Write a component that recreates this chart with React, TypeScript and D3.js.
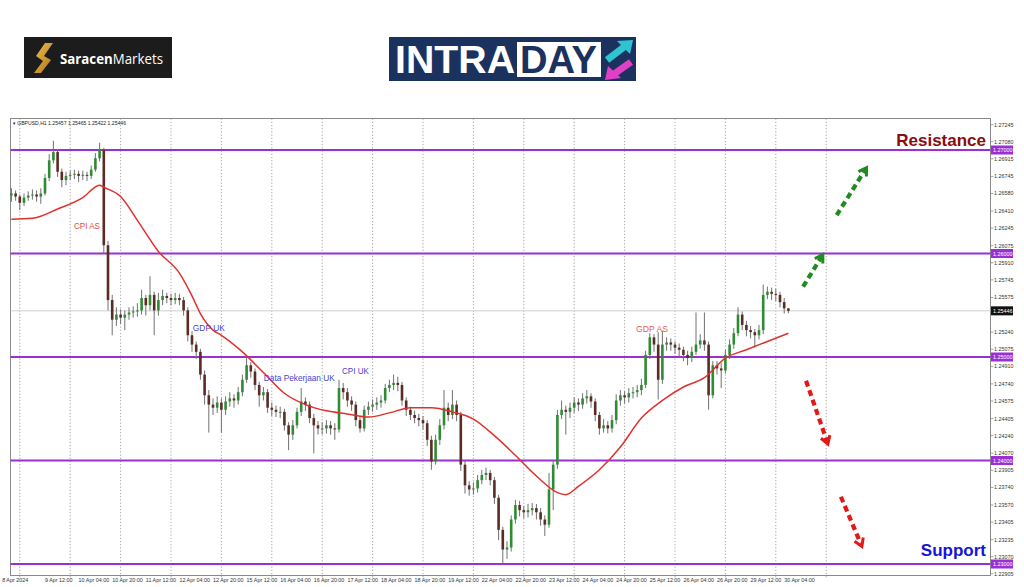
import React from 'react';
import * as d3 from 'd3';

const symbolHeader = '\u25BE GBPUSD,H1  1.25457 1.25465 1.25422 1.25446';
const firstOpen = 1.2656;
const closes = [
  1.2658,1.2655,1.2649,1.2654,1.2656,1.2657,1.2655,1.2658,1.2673,1.2690,
  1.2698,1.2679,1.2671,1.2675,1.2676,1.2677,1.2675,1.2676,1.2675,1.2681,
  1.2692,1.2700,1.2608,1.2555,1.2536,1.2541,1.2538,1.2541,1.2543,1.2544,
  1.2545,1.2557,1.2550,1.2560,1.2545,1.2555,1.2559,1.2557,1.2555,1.2557,
  1.2555,1.2545,1.2521,1.2512,1.2505,1.2483,1.2463,1.2454,1.2451,1.2456,
  1.2449,1.2457,1.2460,1.2458,1.2466,1.2478,1.2492,1.2486,1.2473,1.2463,
  1.2466,1.2451,1.2449,1.2447,1.2447,1.2434,1.2425,1.2434,1.2447,1.2457,
  1.2454,1.2441,1.2434,1.2431,1.2431,1.2434,1.2431,1.2430,1.2470,1.2466,
  1.2458,1.2454,1.2439,1.2431,1.2449,1.2452,1.2454,1.2456,1.2458,1.2470,
  1.2473,1.2475,1.2473,1.2458,1.2449,1.2444,1.2441,1.2439,1.2436,1.2420,
  1.2399,1.2420,1.2434,1.2451,1.2444,1.2454,1.2444,1.2396,1.2376,1.2372,
  1.2373,1.2381,1.2386,1.2388,1.2381,1.2364,1.2333,1.2314,1.2316,1.2343,
  1.2357,1.2352,1.2350,1.2352,1.2354,1.2350,1.2343,1.2338,1.2372,1.2396,
  1.2444,1.2449,1.2447,1.2451,1.2456,1.2454,1.2460,1.2462,1.2457,1.2444,
  1.2431,1.2434,1.2431,1.2439,1.2458,1.2463,1.2461,1.2465,1.2466,1.2468,
  1.2473,1.2502,1.2519,1.2512,1.2478,1.2512,1.2514,1.2512,1.2509,1.2507,
  1.2502,1.2499,1.2505,1.2512,1.2516,1.2512,1.2463,1.2492,1.2489,1.2487,
  1.2502,1.2512,1.2523,1.2541,1.2531,1.2526,1.2524,1.2521,1.2526,1.2560,
  1.2563,1.2561,1.2560,1.2553,1.2547,1.25446,
];
const highs = [
  1.2663,1.2661,1.2657,1.2658,1.2660,1.2662,1.2661,1.2663,1.2677,1.2696,
  1.2709,1.2701,1.2682,1.2679,1.2680,1.2681,1.2680,1.2680,1.2679,1.2685,
  1.2697,1.2707,1.2702,1.2612,1.2560,1.2548,1.2546,1.2545,1.2548,1.2549,
  1.2552,1.2565,1.2560,1.2578,1.2563,1.2562,1.2565,1.2562,1.2561,1.2562,
  1.2561,1.2558,1.2548,1.2525,1.2515,1.2508,1.2487,1.2468,1.2460,1.2462,
  1.2460,1.2462,1.2466,1.2464,1.2471,1.2483,1.2499,1.2495,1.2489,1.2476,
  1.2471,1.2469,1.2456,1.2453,1.2452,1.2450,1.2437,1.2439,1.2451,1.2470,
  1.2461,1.2457,1.2445,1.2438,1.2437,1.2439,1.2438,1.2436,1.2478,1.2475,
  1.2470,1.2462,1.2457,1.2443,1.2453,1.2457,1.2459,1.2461,1.2463,1.2474,
  1.2478,1.2483,1.2481,1.2476,1.2461,1.2452,1.2448,1.2445,1.2443,1.2439,
  1.2424,1.2425,1.2440,1.2468,1.2456,1.2468,1.2458,1.2447,1.2400,1.2380,
  1.2379,1.2386,1.2391,1.2393,1.2391,1.2384,1.2367,1.2336,1.2322,1.2347,
  1.2362,1.2361,1.2356,1.2358,1.2359,1.2358,1.2354,1.2347,1.2388,1.2400,
  1.2449,1.2458,1.2453,1.2456,1.2461,1.2460,1.2465,1.2468,1.2465,1.2460,
  1.2447,1.2440,1.2438,1.2444,1.2464,1.2468,1.2467,1.2470,1.2471,1.2473,
  1.2479,1.2506,1.2523,1.2522,1.2524,1.2525,1.2519,1.2518,1.2515,1.2513,
  1.2510,1.2506,1.2510,1.2543,1.2522,1.2543,1.2515,1.2496,1.2496,1.2494,
  1.2507,1.2517,1.2528,1.2548,1.2544,1.2535,1.2530,1.2527,1.2531,1.2570,
  1.2568,1.2567,1.2566,1.2563,1.2557,1.25465,
];
const lows = [
  1.2650,1.2651,1.2642,1.2646,1.2651,1.2652,1.2650,1.2648,1.2656,1.2670,
  1.2687,1.2674,1.2664,1.2666,1.2671,1.2672,1.2669,1.2671,1.2670,1.2672,
  1.2679,1.2689,1.2600,1.2545,1.2521,1.2530,1.2532,1.2526,1.2536,1.2538,
  1.2539,1.2541,1.2540,1.2545,1.2521,1.2540,1.2550,1.2552,1.2550,1.2551,
  1.2550,1.2540,1.2515,1.2505,1.2498,1.2478,1.2454,1.2427,1.2444,1.2446,
  1.2427,1.2444,1.2452,1.2451,1.2454,1.2462,1.2475,1.2480,1.2468,1.2452,
  1.2458,1.2446,1.2443,1.2442,1.2441,1.2429,1.2410,1.2420,1.2431,1.2443,
  1.2448,1.2436,1.2407,1.2425,1.2425,1.2426,1.2425,1.2420,1.2427,1.2459,
  1.2452,1.2448,1.2433,1.2427,1.2428,1.2444,1.2447,1.2449,1.2451,1.2455,
  1.2466,1.2468,1.2467,1.2453,1.2443,1.2439,1.2436,1.2433,1.2430,1.2414,
  1.2391,1.2396,1.2415,1.2430,1.2438,1.2440,1.2438,1.2390,1.2368,1.2366,
  1.2367,1.2369,1.2377,1.2381,1.2376,1.2358,1.2323,1.2301,1.2305,1.2312,
  1.2339,1.2346,1.2344,1.2345,1.2347,1.2343,1.2337,1.2327,1.2335,1.2352,
  1.2392,1.2440,1.2425,1.2441,1.2446,1.2448,1.2450,1.2455,1.2451,1.2438,
  1.2425,1.2427,1.2426,1.2427,1.2435,1.2453,1.2455,1.2456,1.2460,1.2461,
  1.2463,1.2470,1.2498,1.2505,1.2459,1.2474,1.2506,1.2506,1.2503,1.2500,
  1.2496,1.2492,1.2495,1.2502,1.2508,1.2506,1.2449,1.2460,1.2483,1.2470,
  1.2484,1.2498,1.2508,1.2520,1.2526,1.2520,1.2518,1.2509,1.2517,1.2522,
  1.2556,1.2555,1.2554,1.2548,1.2542,1.25422,
];
const maIndex = [0,5,11,17,21,22,26,30,35,40,43,45,48,50,55,60,65,70,75,80,85,90,95,100,105,110,115,120,125,130,132,135,140,145,150,155,160,165,170,175,180,185];
const maValues = [1.2633,1.2634,1.2643,1.2654,1.2666,1.2664,1.2655,1.2632,1.2602,1.2581,1.2559,1.2542,1.2526,1.2521,1.2505,1.2485,1.2465,1.2454,1.2448,1.2445,1.2442,1.2446,1.2451,1.2451,1.2447,1.2440,1.2424,1.2405,1.2385,1.2369,1.2367,1.2375,1.2391,1.2413,1.2441,1.2458,1.2471,1.2480,1.2499,1.2507,1.2515,1.2523];

const levels = [1.27, 1.26, 1.25, 1.24, 1.23];
const priceTicks = [1.27245,1.2708,1.26915,1.26745,1.2658,1.2641,1.26245,1.26075,1.2591,1.25745,1.25575,1.2524,1.25075,1.2491,1.2474,1.24575,1.24405,1.2424,1.2407,1.23905,1.2374,1.2357,1.23405,1.23235,1.2307,1.22905];
const lastPrice = 1.25446;
const dateLabels = ['8 Apr 2024','9 Apr 12:00','10 Apr 04:00','10 Apr 20:00','11 Apr 12:00','12 Apr 04:00','12 Apr 20:00','15 Apr 12:00','16 Apr 04:00','16 Apr 20:00','17 Apr 12:00','18 Apr 04:00','18 Apr 20:00','19 Apr 12:00','22 Apr 04:00','22 Apr 20:00','23 Apr 12:00','24 Apr 04:00','24 Apr 20:00','25 Apr 12:00','26 Apr 04:00','26 Apr 20:00','29 Apr 12:00','30 Apr 04:00'];
const dateLabelBars = [-2.2,8,16,24,32,40,48,56,64,72,80,88,96,104,112,120,128,136,144,152,160,168,176,184];
const gridBars = [2,14,26,38,50,62,74,86,98,110,122,134,146,158,170,182,194];

const eventNames = ['CPI AS', 'GDP UK', 'Data Pekerjaan UK', 'CPI UK', 'GDP AS'];
const eventBars = [14.9, 43.2, 60.1, 78.7, 148.7];
const eventPrices = [1.26237, 1.25251, 1.24768, 1.24836, 1.25242];
const eventColors = ['#dc4a42', '#4646d2', '#4646d2', '#4646d2', '#e0605a'];
const eventWidths = [26, 32, 71, 27, 32];

// projection arrows: [tailBar, tailPrice, tipBar, tipPrice]
const upArrows = [[188.5, 1.2568, 193.2, 1.2599], [196.5, 1.2637, 203.6, 1.2683]];
const downArrows = [[189.2, 1.2477, 194.4, 1.2416], [197.5, 1.2365, 202.5, 1.2317]];

const W = 1024, H = 587;
const plot = { left: 10.5, right: 990.5, top: 118.5, bottom: 575.5 };
const PURPLE = '#9a30d4';
const AXF = 'Liberation Sans, Arial, sans-serif';

function Arrow({ seg, color, x, y }: any) {
  const [b0, p0, b1, p1] = seg;
  const x0 = x(b0), y0 = y(p0), x1 = x(b1), y1 = y(p1);
  const ang = Math.atan2(y1 - y0, x1 - x0);
  const hl = 9, ha = 0.55;
  const sx = x1 - Math.cos(ang) * 3, sy = y1 - Math.sin(ang) * 3;
  const a1x = x1 - hl * Math.cos(ang - ha), a1y = y1 - hl * Math.sin(ang - ha);
  const a2x = x1 - hl * Math.cos(ang + ha), a2y = y1 - hl * Math.sin(ang + ha);
  return (
    <g>
      <line x1={x0} y1={y0} x2={sx} y2={sy} stroke={color} strokeWidth={4.2} strokeDasharray="6,4" />
      <polyline points={`${a1x},${a1y} ${x1},${y1} ${a2x},${a2y}`} fill="none" stroke={color} strokeWidth={3} strokeLinejoin="miter" />
    </g>
  );
}

export default function App() {
  const x = d3.scaleLinear().domain([0, 185]).range([11.4, 788.4]);
  const y = d3.scaleLinear().domain([1.23, 1.27]).range([564, 150]);
  const bodyW = 2.6;

  const candles = closes.map((c, i) => {
    const o = i === 0 ? firstOpen : closes[i - 1];
    const up = c >= o;
    const top = y(Math.max(o, c));
    const bot = y(Math.min(o, c));
    const hi = y(Math.max(highs[i], o, c));
    const lo = y(Math.min(lows[i], o, c));
    return { i, up, top, bot, hi, lo };
  });

  const maLine = d3.line<number>()
    .x((_, k) => x(maIndex[k]))
    .y((v) => y(v))
    .curve(d3.curveMonotoneX)(maValues);

  return (
    <svg width={W} height={H} style={{ position: 'absolute', left: 0, top: 0, background: '#fff' }}>
      <rect x={0} y={0} width={W} height={H} fill="#fff" />

      {/* Saracen logo */}
      <rect x={24} y={37} width={148} height={41} fill="#1c1c1c" />
      <defs>
        <linearGradient id="gold" x1="0" y1="0" x2="1" y2="1">
          <stop offset="0" stopColor="#f0c24a" />
          <stop offset="1" stopColor="#a8741c" />
        </linearGradient>
      </defs>
      <path d="M45 43 L53 43 L44 56 L51 60 L41 73 L34 73 L43 61 L36 56 Z" fill="url(#gold)" />
      <text x={60} y={63.5} fontFamily="Open Sans, Lato, sans-serif" fontSize={14} fill="#fff" textLength={103} lengthAdjust="spacingAndGlyphs">
        <tspan fontWeight={700}>Saracen</tspan><tspan fontWeight={400}>Markets</tspan>
      </text>

      {/* INTRADAY logo */}
      <rect x={389} y={37} width={247} height={44} fill="#1b325e" />
      <text x={395} y={73} fontFamily="Liberation Sans, Arial, sans-serif" fontWeight={700} fontSize={39} fill="#fff" textLength={120} lengthAdjust="spacingAndGlyphs">INTRA</text>
      <rect x={517} y={42} width={84} height={35} fill="#fff" />
      <text x={520} y={73} fontFamily="Liberation Sans, Arial, sans-serif" fontWeight={700} fontSize={39} fill="#1b325e" textLength={77} lengthAdjust="spacingAndGlyphs">DAY</text>
      <line x1={607} y1={60} x2={624} y2={47} stroke="#2ec4d2" strokeWidth={7} />
      <polygon points="633,40 617,41 630,54" fill="#2ec4d2" />
      <line x1={631} y1={62} x2={614} y2={74} stroke="#e23fc6" strokeWidth={7} />
      <polygon points="605,80 608,66 621,78" fill="#e23fc6" />

      {/* chart frame */}
      <rect x={plot.left} y={plot.top} width={plot.right - plot.left} height={plot.bottom - plot.top} fill="#fff" stroke="#8a8a8a" strokeWidth={1} />

      {/* vertical dotted grid */}
      {gridBars.map((b) => (
        <line key={'g' + b} x1={x(b)} x2={x(b)} y1={plot.top} y2={plot.bottom + 4} stroke="#8c8c8c" strokeWidth={0.8} strokeDasharray="1.2,2" />
      ))}

      {/* last price line */}
      <line x1={plot.left} x2={plot.right} y1={y(lastPrice)} y2={y(lastPrice)} stroke="#cfcfcf" strokeWidth={1} />

      {/* levels */}
      {levels.map((l) => (
        <line key={'l' + l} x1={plot.left} x2={plot.right} y1={y(l)} y2={y(l)} stroke={PURPLE} strokeWidth={1.8} />
      ))}

      {/* candles */}
      {candles.map((c) => (
        <g key={'c' + c.i}>
          <line x1={x(c.i)} x2={x(c.i)} y1={c.hi} y2={c.lo} stroke="#707070" strokeWidth={1} />
          <rect x={x(c.i) - bodyW / 2} y={c.top} width={bodyW} height={Math.max(1, c.bot - c.top)} fill={c.up ? '#2f8a34' : '#5a2c24'} />
        </g>
      ))}

      {/* moving average */}
      <path d={maLine || ''} fill="none" stroke="#e0302c" strokeWidth={1.5} />

      {/* events */}
      {eventNames.map((t, k) => (
        <text key={t} x={x(eventBars[k])} y={y(eventPrices[k])} fontFamily={AXF} fontSize={9} fill={eventColors[k]} textLength={eventWidths[k]} lengthAdjust="spacingAndGlyphs">{t}</text>
      ))}

      {/* arrows */}
      {upArrows.map((s, k) => <Arrow key={'u' + k} seg={s} color="#1f8c1f" x={x} y={y} />)}
      {downArrows.map((s, k) => <Arrow key={'d' + k} seg={s} color="#e01a16" x={x} y={y} />)}

      {/* resistance / support labels */}
      <text x={986} y={y(1.27) - 4.5} textAnchor="end" fontFamily="Liberation Sans, Arial, sans-serif" fontWeight={700} fontSize={17} fill="#8a0c0c">Resistance</text>
      <text x={986} y={y(1.23) - 8} textAnchor="end" fontFamily="Liberation Sans, Arial, sans-serif" fontWeight={700} fontSize={17} fill="#1414d8">Support</text>

      {/* header */}
      <text x={13} y={125} fontFamily={AXF} fontSize={5.4} fill="#222" textLength={113} lengthAdjust="spacingAndGlyphs">{symbolHeader}</text>

      {/* price axis */}
      {priceTicks.map((p) => (
        <g key={'t' + p}>
          <line x1={plot.right} x2={plot.right + 3} y1={y(p)} y2={y(p)} stroke="#8a8a8a" strokeWidth={0.8} />
          <text x={994} y={y(p) + 2} fontFamily={AXF} fontSize={5.4} fill="#333">{p.toFixed(5)}</text>
        </g>
      ))}
      {levels.map((l) => (
        <g key={'tag' + l}>
          <rect x={991} y={y(l) - 4.5} width={22} height={9} fill={PURPLE} />
          <text x={993} y={y(l) + 2} fontFamily={AXF} fontSize={5.4} fill="#fff">{l.toFixed(5)}</text>
        </g>
      ))}
      <rect x={991} y={y(lastPrice) - 4.5} width={22} height={9} fill="#111" />
      <text x={993} y={y(lastPrice) + 2} fontFamily={AXF} fontSize={5.4} fill="#fff">{lastPrice.toFixed(5)}</text>

      {/* time axis */}
      {dateLabels.map((t, k) => (
        <text key={t} x={x(dateLabelBars[k])} y={582} fontFamily={AXF} fontSize={5.4} fill="#333">{t}</text>
      ))}
    </svg>
  );
}
